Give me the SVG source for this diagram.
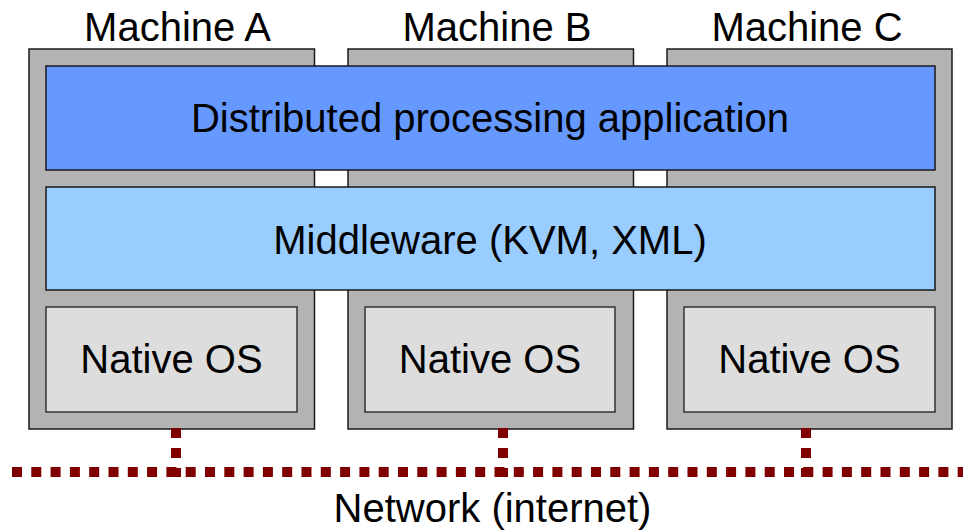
<svg xmlns="http://www.w3.org/2000/svg" width="963" height="531" viewBox="0 0 963 531">
  <style>
    .machine { fill: #b3b3b3; stroke: #1a1a1a; stroke-width: 1.5; }
    .app { fill: #6699ff; stroke: #1a1a1a; stroke-width: 1.5; }
    .mw { fill: #99ccff; stroke: #1a1a1a; stroke-width: 1.5; }
    .os { fill: #dddddd; stroke: #333333; stroke-width: 1.5; }
    text { font-family: "Liberation Sans", Arial, sans-serif; font-size: 40px; fill: #000; text-anchor: middle; }
    .net { fill: none; stroke: #800000; stroke-width: 10; }
  </style>

  <!-- machine frames -->
  <g id="machineA">
    <rect class="machine" x="29" y="49" width="285.5" height="380"/>
    <text x="177.5" y="41">Machine A</text>
  </g>
  <g id="machineB">
    <rect class="machine" x="348" y="49" width="285.5" height="380"/>
    <text x="497" y="41">Machine B</text>
  </g>
  <g id="machineC">
    <rect class="machine" x="667" y="49" width="285" height="380"/>
    <text x="807" y="41">Machine C</text>
  </g>

  <!-- shared layers -->
  <g id="application">
    <rect class="app" x="46" y="66" width="889" height="104"/>
    <text x="490" y="132">Distributed processing application</text>
  </g>
  <g id="middleware">
    <rect class="mw" x="46" y="187" width="889" height="103"/>
    <text x="490" y="254">Middleware (KVM, XML)</text>
  </g>

  <!-- per-machine operating systems -->
  <g id="osA">
    <rect class="os" x="46" y="307" width="251" height="105"/>
    <text x="171.5" y="373">Native OS</text>
  </g>
  <g id="osB">
    <rect class="os" x="365" y="307" width="250" height="105"/>
    <text x="490" y="373">Native OS</text>
  </g>
  <g id="osC">
    <rect class="os" x="684" y="307" width="251" height="105"/>
    <text x="809.5" y="373">Native OS</text>
  </g>

  <!-- network links -->
  <g id="connectors">
    <line class="net" x1="12" y1="472" x2="963" y2="472" stroke-dasharray="10 9.3"/>
    <line class="net" x1="176" y1="428" x2="176" y2="477" stroke-dasharray="10 10"/>
    <line class="net" x1="503" y1="428" x2="503" y2="477" stroke-dasharray="10 10"/>
    <line class="net" x1="806" y1="428" x2="806" y2="477" stroke-dasharray="10 10"/>
  </g>

  <g id="network">
    <text x="492.5" y="522">Network (internet)</text>
  </g>
</svg>
